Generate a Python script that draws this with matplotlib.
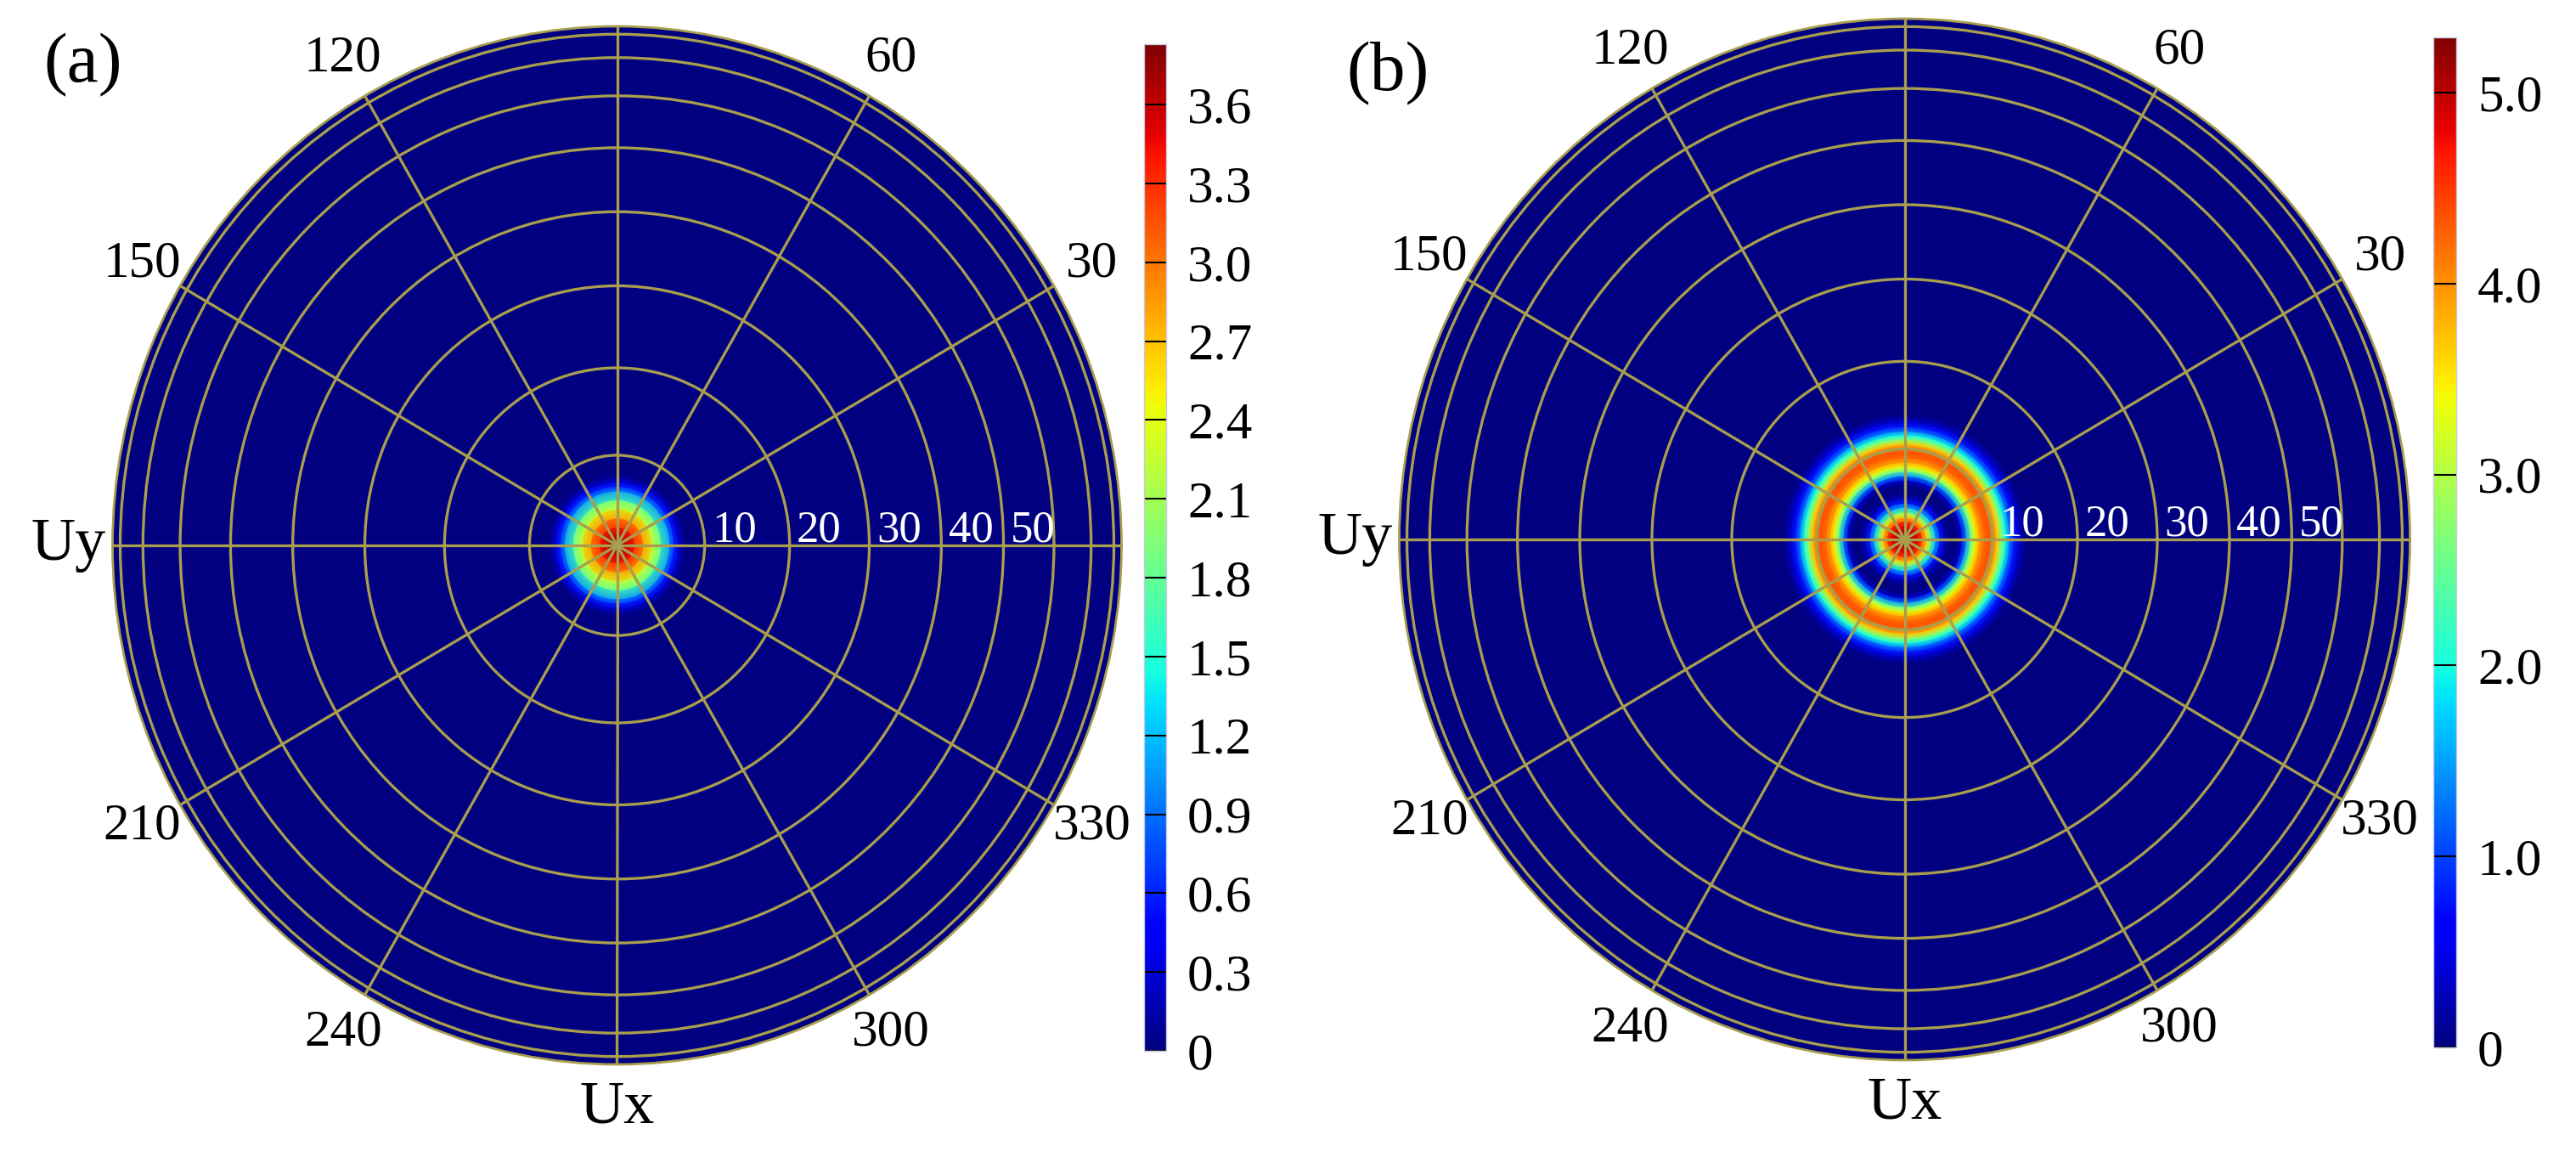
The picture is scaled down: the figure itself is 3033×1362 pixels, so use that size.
import numpy as np
import matplotlib.pyplot as plt

plt.rcParams['font.family'] = ['Liberation Serif', 'DejaVu Serif']

W, H = 3033, 1362

# radial profiles: polar angle (deg) -> amplitude
theta_a = [0, 1, 2, 3, 4, 5, 6, 6.5, 7, 7.5, 8, 90]
amp_a = [3.8, 3.65, 3.35, 2.9, 2.35, 1.7, 1.0, 0.6, 0.3, 0.08, 0, 0]

theta_b = [0, 1, 1.5, 2, 2.5, 3, 3.5, 4, 4.5, 5, 5.5, 6, 6.5, 7, 7.5, 8,
           8.5, 9, 9.5, 10, 10.5, 11, 11.5, 12, 12.5, 13, 13.5, 14, 90]
amp_b = [5.2, 5.0, 4.8, 4.4, 3.6, 2.6, 1.6, 0.8, 0.3, 0.05, 0, 0.05, 0.4, 1.4, 2.5, 3.4,
         3.9, 4.2, 4.35, 4.25, 3.7, 2.8, 2.0, 1.3, 0.8, 0.4, 0.15, 0, 0]

vmax_a = 3.83
vmax_b = 5.29
cbar_ticks_a = [0, 0.3, 0.6, 0.9, 1.2, 1.5, 1.8, 2.1, 2.4, 2.7, 3.0, 3.3, 3.6]
cbar_labels_a = ['0', '0.3', '0.6', '0.9', '1.2', '1.5', '1.8', '2.1', '2.4', '2.7', '3.0', '3.3', '3.6']
cbar_ticks_b = [0, 1, 2, 3, 4, 5]
cbar_labels_b = ['0', '1.0', '2.0', '3.0', '4.0', '5.0']

ring_deg = [10, 20, 30, 40, 50, 60, 70, 80]
ring_labels = ['10', '20', '30', '40', '50', '', '', '']
spoke_deg = [0, 30, 60, 90, 120, 150, 180, 210, 240, 270, 300, 330]
spoke_labels = ['', '30', '60', '', '120', '150', 'Uy', '210', '240', 'Ux', '300', '330']

grid_col = '#A89E4E'


def px_rect(x0, y0, x1, y1):
    return [x0 / W, 1 - y1 / H, (x1 - x0) / W, (y1 - y0) / H]


def panel(fig, rect, crect, theta, amp, vmax, cticks, clabels, tag, tag_xy):
    ax = fig.add_axes(px_rect(*rect), projection='polar')
    ax.set_aspect('auto')
    ax.set_facecolor(plt.cm.jet(0.0))

    phi = np.radians(np.arange(0, 361, 1))
    rr = np.sin(np.radians(theta))
    P, R = np.meshgrid(phi, rr)
    C = np.tile(np.array(amp)[:, None], (1, len(phi)))
    m = ax.pcolormesh(P, R, C, cmap='jet', vmin=0, vmax=vmax, shading='gouraud', zorder=0)

    ax.set_ylim(0, 1)
    ax.set_yticks(np.sin(np.radians(ring_deg)))
    ax.set_yticklabels([])
    ax.set_xticks(np.radians(spoke_deg))
    ax.set_xticklabels(spoke_labels, fontsize=44)
    for lbl in ax.get_xticklabels():
        if lbl.get_text() in ('Ux', 'Uy'):
            lbl.set_fontsize(52)
    ax.tick_params(axis='x', pad=30, length=0)
    ax.tick_params(axis='y', length=0)
    ax.set_axisbelow(False)
    ax.grid(True, color=grid_col, lw=2.4)
    ax.spines['polar'].set_color(grid_col)
    ax.spines['polar'].set_linewidth(2)

    for d, lbl in zip(ring_deg, ring_labels):
        if lbl:
            ax.annotate(lbl, xy=(0, np.sin(np.radians(d))), xytext=(6, 3),
                        textcoords='offset points', color='white', fontsize=38,
                        ha='left', va='baseline')

    cax = fig.add_axes(px_rect(*crect))
    cb = fig.colorbar(m, cax=cax, ticks=cticks)
    cb.ax.set_yticklabels(clabels)
    cb.ax.tick_params(direction='in', length=19, width=1.5, labelsize=44, pad=18, color='black')
    cb.outline.set_edgecolor('#c8c8e0')
    cb.outline.set_linewidth(1)

    fig.text(tag_xy[0] / W, 1 - tag_xy[1] / H, tag, fontsize=60, ha='center', va='center')
    return ax


fig = plt.figure(figsize=(W / 100, H / 100), dpi=100)

panel(fig, (132.5, 31, 1320.5, 1253), (1347, 52, 1373, 1237),
      theta_a, amp_a, vmax_a, cbar_ticks_a, cbar_labels_a, '(a)', (98, 77))
panel(fig, (1647.5, 22, 2837.5, 1248), (2865, 44, 2892, 1233),
      theta_b, amp_b, vmax_b, cbar_ticks_b, cbar_labels_b, '(b)', (1634, 87))

fig.savefig('out.png', dpi=100)
